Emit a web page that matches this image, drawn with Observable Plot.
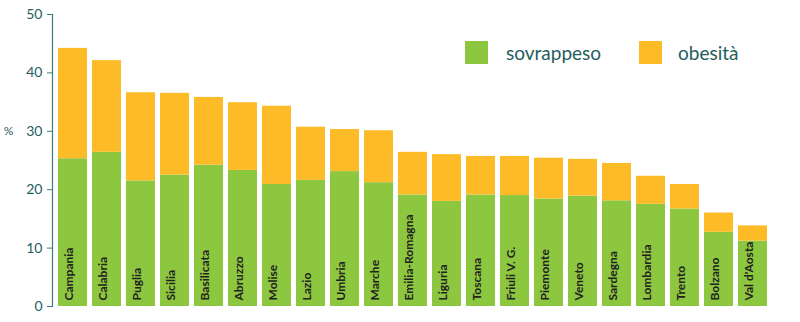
<!DOCTYPE html>
<html><head><meta charset="utf-8">
<script src="https://cdn.jsdelivr.net/npm/d3@7"></script>
<script src="https://cdn.jsdelivr.net/npm/@observablehq/plot@0.6"></script>
<style>
body{margin:0;background:#fff;}
#chart{position:relative;width:800px;height:322px;}
.lg{position:absolute;top:41px;height:23px;font-family:Lato,"Open Sans",sans-serif;font-size:19px;line-height:23px;color:#1f5d5c;white-space:nowrap;}
.sw{position:absolute;top:41px;width:23px;height:23px;}
</style></head><body>
<div id="chart"></div>
<script>
const regions = ["Campania","Calabria","Puglia","Sicilia","Basilicata","Abruzzo","Molise","Lazio","Umbria","Marche","Emilia-Romagna","Liguria","Toscana","Friuli V. G.","Piemonte","Veneto","Sardegna","Lombardia","Trento","Bolzano","Val d'Aosta"];
const sovrappeso = [25.3,26.4,21.5,22.5,24.2,23.3,20.9,21.6,23.1,21.2,19.1,18.0,19.1,19.0,18.4,18.9,18.1,17.5,16.7,12.7,11.2];
const obesita = [18.9,15.7,15.1,14.0,11.6,11.6,13.4,9.1,7.2,8.9,7.3,8.0,6.6,6.7,7.0,6.3,6.4,4.8,4.2,3.3,2.6];
const seriesNames = ["sovrappeso","obesità"];
const seriesColors = ["#8dc63f","#fdbb27"];
const yTicks = [0,10,20,30,40,50];
const yUnit = "%";

const data = [];
regions.forEach((r,i)=>{
  data.push({region:r, serie:seriesNames[0], value:sovrappeso[i]});
  data.push({region:r, serie:seriesNames[1], value:obesita[i]});
});

const plot = Plot.plot({
  width:800, height:322,
  marginLeft:52, marginRight:28, marginTop:14, marginBottom:16,
  style:{fontFamily:"Lato, 'Open Sans', sans-serif", background:"#fff"},
  x:{domain:regions, paddingInner:0.15, paddingOuter:0.09, axis:null},
  y:{domain:[0,50]},
  color:{domain:seriesNames, range:seriesColors},
  marks:[
    Plot.barY(data, Plot.stackY({x:"region", y:"value", fill:"serie"})),
    Plot.frame({anchor:"left", stroke:"#3d7c7c", strokeWidth:1.2}),
    Plot.axisY({ticks:yTicks, tickSize:5, tickPadding:5, label:null, fontSize:14, color:"#1f5d5c", stroke:"#3d7c7c"}),
    Plot.text([yUnit], {text:d=>d, y:[30], frameAnchor:"left", dx:-44, textAnchor:"middle", fontSize:12, fill:"#1f5d5c"}),
    Plot.text(regions, {text:d=>d, x:d=>d, frameAnchor:"bottom", rotate:-90, textAnchor:"start", dy:-6, fontWeight:"bold", fontSize:12, fill:"#222"})
  ]
});
const c = document.getElementById("chart");
c.appendChild(plot);
const legendPos = [[465,506],[639,678]];
seriesNames.forEach((s,i)=>{
  const sw = document.createElement("div"); sw.className="sw"; sw.style.left=legendPos[i][0]+"px"; sw.style.background=seriesColors[i]; c.appendChild(sw);
  const t = document.createElement("div"); t.className="lg"; t.style.left=legendPos[i][1]+"px"; t.textContent=s; c.appendChild(t);
});
</script>
</body></html>
